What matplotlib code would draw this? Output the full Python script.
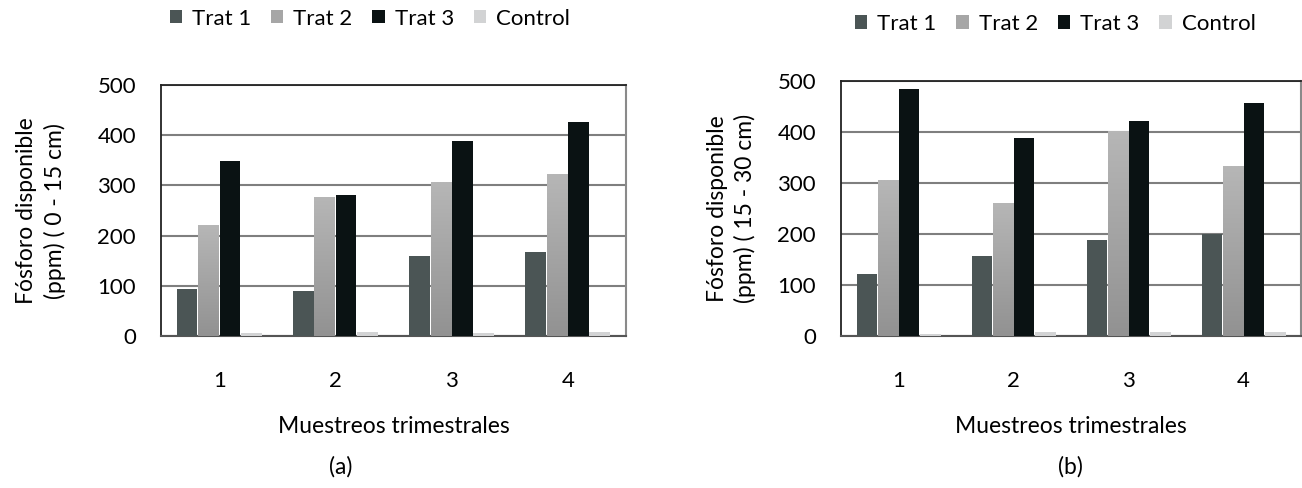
import numpy as np
import matplotlib.pyplot as plt
from matplotlib.colors import LinearSegmentedColormap

plt.rcParams['font.family'] = ['Lato', 'DejaVu Sans']

muestreos = ['1', '2', '3', '4']
series = ['Trat 1', 'Trat 2', 'Trat 3', 'Control']

# (a) 0 - 15 cm
trat1_a = [93, 90, 159, 167]
trat2_a = [221, 278, 306, 322]
trat3_a = [349, 282, 388, 426]
control_a = [5, 8, 5, 8]

# (b) 15 - 30 cm
trat1_b = [121, 157, 188, 200]
trat2_b = [305, 261, 401, 333]
trat3_b = [484, 388, 421, 456]
control_b = [3, 7, 7, 7]

colors = ['#4b5555', '#a6a6a6', '#0a1213', '#d2d3d4']
FS_TICK = 16
FS_LAB = 16.5
FS_LEG = 16

# Trat 2 bars carry a soft gray gradient (lighter at top) in the original
grad_cmap = LinearSegmentedColormap.from_list('t2', ['#929292', '#b6b6b6'])


def shade_bars(ax, container, cmap):
    grad = np.linspace(0, 1, 64).reshape(-1, 1)
    for rect in container:
        x0, y0 = rect.get_x(), rect.get_y()
        w, h = rect.get_width(), rect.get_height()
        im = ax.imshow(grad, extent=[x0, x0 + w, y0, y0 + h], origin='lower',
                       aspect='auto', cmap=cmap, zorder=3.5, interpolation='bilinear')
        im.set_clip_path(rect)


def draw_panel(ax, data, ylabel, letter, label_x, tag_x, legend_xy):
    fig = ax.figure
    x = np.arange(1, len(muestreos) + 1)
    w = 0.178
    offsets = [-0.276, -0.092, 0.092, 0.276]
    handles = []
    for vals, off, c, name in zip(data, offsets, colors, series):
        b = ax.bar(x + off, vals, width=w, color=c, label=name, zorder=3)
        handles.append(b)
    shade_bars(ax, handles[1], grad_cmap)

    ax.set_xlim(0.5, 4.5)
    ax.set_ylim(0, 500)
    ax.set_yticks(range(0, 501, 100))
    ax.set_xticks(x)
    ax.set_xticklabels(muestreos)
    ax.tick_params(axis='both', length=0, labelsize=FS_TICK)
    ax.tick_params(axis='y', pad=18)
    ax.tick_params(axis='x', pad=25)
    ax.grid(True, axis='y', color='#7f7f7f', linewidth=1.5, zorder=0)
    ax.set_axisbelow(True)

    for side in ['top', 'left']:
        ax.spines[side].set_color('#222222')
        ax.spines[side].set_linewidth(1.3)
    ax.spines['bottom'].set_color('#555555')
    ax.spines['bottom'].set_linewidth(1.5)
    ax.spines['right'].set_color('#8a8a8a')
    ax.spines['right'].set_linewidth(1.5)

    ax.set_ylabel(ylabel, fontsize=FS_LAB, multialignment='center', linespacing=1.35)
    ax.yaxis.set_label_coords(label_x, 0.5)
    ax.set_xlabel('Muestreos trimestrales', fontsize=FS_LAB, labelpad=18)

    fig.text(tag_x, 0.043, letter, fontsize=FS_LAB, ha='center', va='center')

    ax.legend(handles, series, loc='center', ncol=4, frameon=False, fontsize=FS_LEG,
              handlelength=0.55, handleheight=0.55, handletextpad=0.45,
              columnspacing=0.9, borderaxespad=0,
              bbox_to_anchor=legend_xy, bbox_transform=fig.transFigure)


fig = plt.figure(figsize=(13.02, 4.88), dpi=100)
ax_a = fig.add_axes([0.1237, 0.3115, 0.357, 0.514])
ax_b = fig.add_axes([0.646, 0.3115, 0.3533, 0.5225])

draw_panel(ax_a, [trat1_a, trat2_a, trat3_a, control_a],
           'Fósforo disponible\n(ppm) ( 0 - 15 cm)', '(a)', -0.205, 0.2615, (0.284, 0.962))
draw_panel(ax_b, [trat1_b, trat2_b, trat3_b, control_b],
           'Fósforo disponible\n(ppm) ( 15 - 30 cm)', '(b)', -0.185, 0.8225, (0.8105, 0.951))

fig.savefig('out.png', dpi=100)
